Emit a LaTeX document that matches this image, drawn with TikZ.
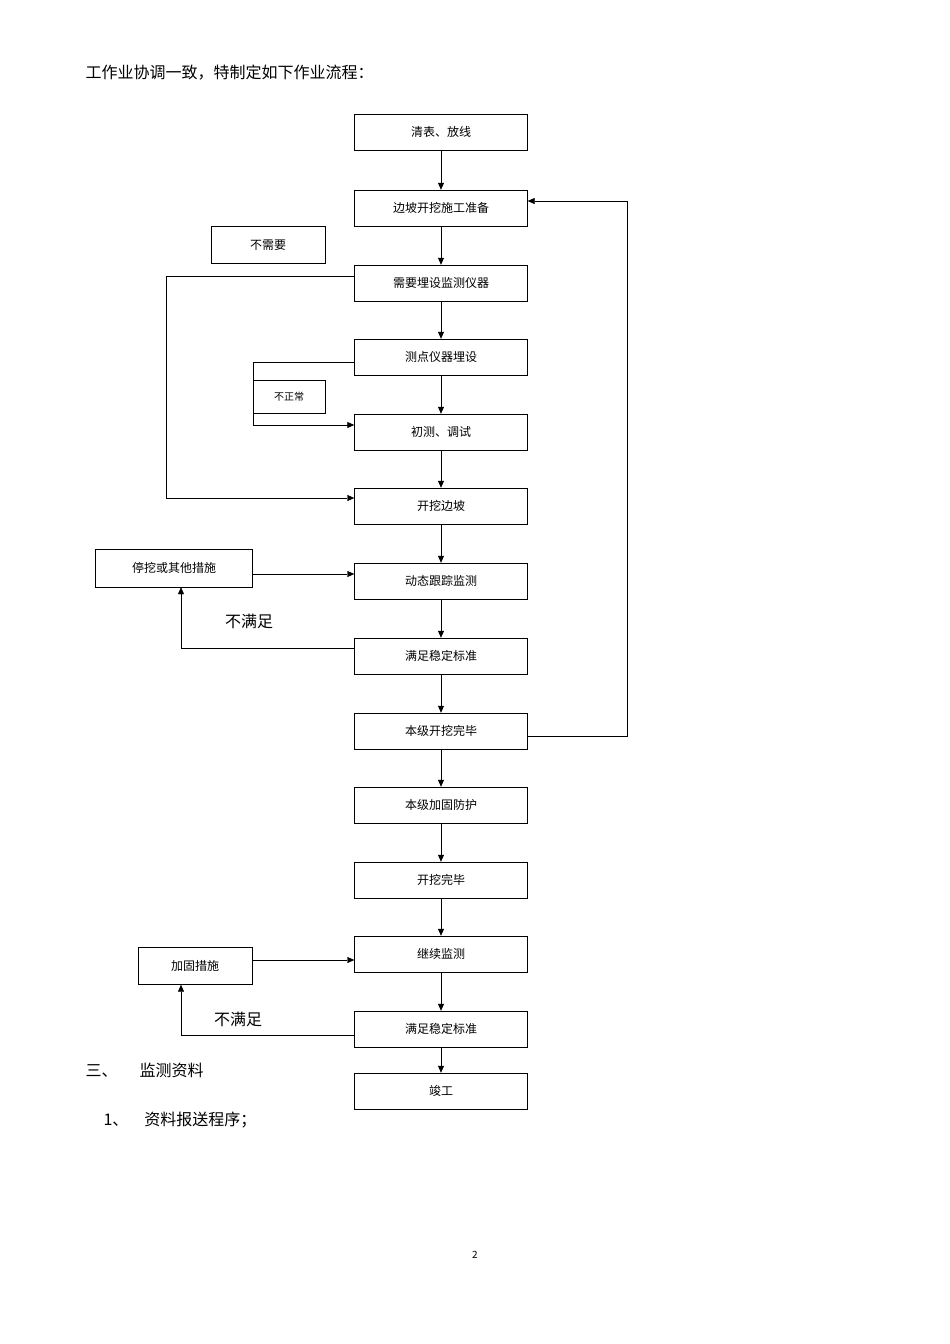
\documentclass[tikz,border=0pt]{standalone}
\usepackage{fontspec}
\setmainfont{Noto Sans CJK SC}
\usetikzlibrary{arrows.meta}
\begin{document}
\begin{tikzpicture}[x=1pt,y=-1pt]
	\tikzset{boite/.style={draw=black, minimum width=173pt, minimum height=36pt, inner sep=0pt, font=\fontsize{12}{14}\selectfont},
		petite/.style={draw=black, inner sep=0pt, font=\fontsize{12}{14}\selectfont},
		fleche/.style={-{Triangle[length=7pt,width=6pt]}, thick},
		trait/.style={thin}};
	\useasboundingbox (0,0) rectangle (950,1344);

	\node[anchor=west, font=\fontsize{16}{18}\selectfont] (intro) at (82,73) {工作业协调一致，特制定如下作业流程：};

	\node[boite] (b1)  at (441, 132) {清表、放线};
	\node[boite] (b2)  at (441, 208) {边坡开挖施工准备};
	\node[boite] (b3)  at (441, 283) {需要埋设监测仪器};
	\node[boite] (b4)  at (441, 357) {测点仪器埋设};
	\node[boite] (b5)  at (441, 432) {初测、调试};
	\node[boite] (b6)  at (441, 506) {开挖边坡};
	\node[boite] (b7)  at (441, 581) {动态跟踪监测};
	\node[boite] (b8)  at (441, 656) {满足稳定标准};
	\node[boite] (b9)  at (441, 731) {本级开挖完毕};
	\node[boite] (b10) at (441, 805) {本级加固防护};
	\node[boite] (b11) at (441, 880) {开挖完毕};
	\node[boite] (b12) at (441, 954) {继续监测};
	\node[boite] (b13) at (441,1029) {满足稳定标准};
	\node[boite] (b14) at (441,1091) {竣工};

	\node[petite, minimum width=114pt, minimum height=37pt] (nb) at (268,245) {不需要};
	\node[petite, minimum width=72pt, minimum height=33pt, font=\fontsize{10}{12}\selectfont] (nz) at (289,397) {不正常};
	\node[petite, minimum width=157pt, minimum height=38pt] (tw) at (174,568) {停挖或其他措施};
	\node[petite, minimum width=114pt, minimum height=37pt] (jg) at (195,966) {加固措施};

	\node[font=\fontsize{16}{18}\selectfont] (n1) at (249,621) {不满足};
	\node[font=\fontsize{16}{18}\selectfont] (n2) at (238,1019) {不满足};

	\node[anchor=west, font=\fontsize{16}{18}\selectfont] (t3) at (82,1070) {三、\hspace{22pt}监测资料};
	\node[anchor=west, font=\fontsize{16}{18}\selectfont] (t4) at (100,1120) {1、\hspace{16pt}资料报送程序；};
	\node[font=\fontsize{10}{12}\selectfont] (pg) at (475,1255) {2};

	\foreach \a/\b in {b1/b2,b2/b3,b3/b4,b4/b5,b5/b6,b6/b7,b7/b8,b8/b9,b9/b10,b10/b11,b11/b12,b12/b13,b13/b14}
		\draw[fleche] (\a) -- (\b);

	\draw[fleche, thin] (b3.west |- 0,276) -| (166,498) -- (b6.west |- 0,498);
	\draw[fleche] (b4.west |- 0,362) -| (253,425) -- (b5.west |- 0,425);
	\draw[fleche, thin] (tw.east |- 0,574) -- (b7.west |- 0,574);
	\draw[fleche, thin] (b8.west |- 0,648) -| (181,648) -- (tw.south -| 181,0);
	\draw[fleche, thin] (b9.east |- 0,736) -| (627,201) -- (b2.east |- 0,201);
	\draw[fleche, thin] (jg.east |- 0,960) -- (b12.west |- 0,960);
	\draw[fleche, thin] (b13.west |- 0,1035) -| (181,1035) -- (jg.south -| 181,0);
\end{tikzpicture}
\end{document}
